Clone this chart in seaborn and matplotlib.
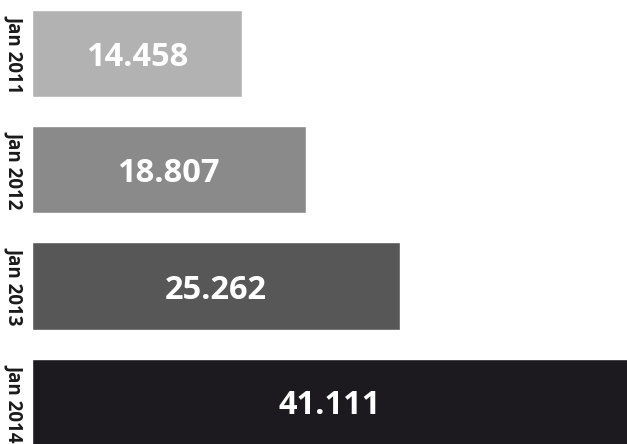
import matplotlib
matplotlib.use('Agg')
import matplotlib.pyplot as plt
import seaborn as sns
import pandas as pd

# data
periods = ['Jan 2011', 'Jan 2012', 'Jan 2013', 'Jan 2014']
counts = [14458, 18807, 25262, 41111]
bar_colors = ['#b2b2b3', '#8a8a8a', '#575757', '#1c1a1e']

df = pd.DataFrame({'period': periods, 'count': counts})

sns.set_theme(style='white')
plt.rcParams['font.family'] = ['Open Sans', 'DejaVu Sans']

fig = plt.figure(figsize=(6.27, 4.44), dpi=100)
ax = fig.add_axes([32 / 627, 0, 595 / 627, 1])

sns.barplot(data=df, y='period', x='count', hue='period', palette=bar_colors,
            orient='h', width=0.75, saturation=1, legend=False, ax=ax)

for cont, v in zip(ax.containers, counts):
    txts = ax.bar_label(cont, labels=[f'{v:,}'.replace(',', '.')], label_type='center',
                        color='white', fontsize=23.5, fontweight='bold')
    for t in txts:
        t.set_va('center_baseline')

ax.set_xlim(0, 40900)
ax.set_ylim(3.358, -0.46)
ax.set_xlabel('')
ax.set_ylabel('')
ax.set_xticks([])
ax.tick_params(axis='y', length=0, pad=5)
for lab in ax.get_yticklabels():
    lab.set_rotation(270)
    lab.set_va('center')
    lab.set_fontweight('bold')
    lab.set_fontsize(13.5)
    lab.set_color('#1a1a1a')
sns.despine(ax=ax, left=True, bottom=True)

fig.savefig('out.png', dpi=100)
